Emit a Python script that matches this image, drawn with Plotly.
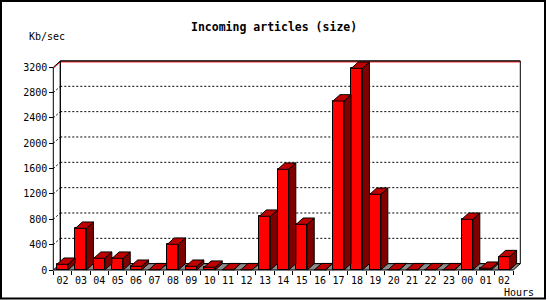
import plotly.graph_objects as go

# ---- data ----
hours = ["02", "03", "04", "05", "06", "07", "08", "09", "10", "11", "12", "13",
         "14", "15", "16", "17", "18", "19", "20", "21", "22", "23", "00", "01", "02"]
kbsec = [90, 658, 185, 185, 58, 4, 406, 58, 43, 4, 4, 848,
         1590, 721, 4, 2668, 3184, 1195, 4, 4, 4, 4, 800, 27, 210]
ytick_vals = [0, 400, 800, 1200, 1600, 2000, 2400, 2800, 3200]
title_text = "Incoming articles (size)"
ylabel_text = "Kb/sec"
xlabel_text = "Hours"

# ---- geometry (pixels) ----
FW, FH = 550, 300
X0PX, SLOT = 53.3, 18.4          # front x-axis start, px per category
Y0PX, KPX = 270.0, 0.06334       # y=0 pixel, px per unit
DXPX, DYU = 7.0, 100.0           # depth offset
L, R, T, B = 50, 523, 58, 273    # plot box in pixels
W, H = R - L, B - T

def xdata(px):
    return -0.5 + (px - X0PX) / SLOT

def ydata(py):
    return (Y0PX - py) / KPX

DXU = DXPX / SLOT
n = len(hours)
xs = list(range(n))
xr = [xdata(L), xdata(R)]
yr = [ydata(B), ydata(T)]
TOP = ytick_vals[-1] + DYU

def px2paper(px):
    return (px - L) / W

def py2paper(py):
    return (B - py) / H

FONT = "DejaVu Sans Mono"
shapes = []

# back panel
shapes.append(dict(type="rect", xref="x", yref="y", x0=-0.5 + DXU, x1=n - 0.5 + DXU,
                   y0=DYU, y1=TOP, line=dict(color="black", width=1),
                   fillcolor="white", layer="below"))
# dotted gridlines on back wall + slanted connectors
for v in ytick_vals[1:-1]:
    shapes.append(dict(type="line", xref="x", yref="y", x0=-0.5 + DXU, x1=n - 0.5 + DXU,
                       y0=v + DYU, y1=v + DYU,
                       line=dict(color="black", width=1, dash="2px,2px"), layer="below"))
    shapes.append(dict(type="line", xref="x", yref="y", x0=-0.5, x1=-0.5 + DXU,
                       y0=v, y1=v + DYU,
                       line=dict(color="black", width=1, dash="2px,2px"), layer="below"))
# red line just under top
shapes.append(dict(type="line", xref="x", yref="y", x0=-0.5 + DXU, x1=n - 0.5 + DXU,
                   y0=TOP - 15, y1=TOP - 15, line=dict(color="red", width=1), layer="below"))
shapes.append(dict(type="line", xref="x", yref="y", x0=-0.5, x1=-0.5 + DXU,
                   y0=ytick_vals[-1] - 15, y1=TOP - 15, line=dict(color="red", width=1), layer="below"))
shapes.append(dict(type="line", xref="x", yref="y", x0=-0.5 + DXU, x1=n - 0.5 + DXU,
                   y0=TOP, y1=TOP, line=dict(color="black", width=1), layer="below"))
# floor
shapes.append(dict(type="path", xref="x", yref="y",
                   path=f"M {-0.5},0 L {n-0.5},0 L {n-0.5+DXU},{DYU} L {-0.5+DXU},{DYU} Z",
                   fillcolor="#8c8c8c", line=dict(color="black", width=1), layer="below"))
# front y axis and top slant
shapes.append(dict(type="line", xref="x", yref="y", x0=-0.5, x1=-0.5, y0=0, y1=ytick_vals[-1],
                   line=dict(color="black", width=1), layer="above"))
shapes.append(dict(type="line", xref="x", yref="y", x0=-0.5, x1=-0.5 + DXU,
                   y0=ytick_vals[-1], y1=TOP, line=dict(color="black", width=1), layer="above"))
shapes.append(dict(type="line", xref="x", yref="y", x0=-0.5 + DXU, x1=-0.5 + DXU,
                   y0=DYU, y1=TOP, line=dict(color="black", width=1), layer="below"))

# bar side and top faces
hw = 0.3
for x, v in zip(xs, kbsec):
    side = (f"M {x+hw},0 L {x+hw+DXU},{DYU} L {x+hw+DXU},{v+DYU} L {x+hw},{v} Z")
    top = (f"M {x-hw},{v} L {x+hw},{v} L {x+hw+DXU},{v+DYU} L {x-hw+DXU},{v+DYU} Z")
    shapes.append(dict(type="path", xref="x", yref="y", path=side, fillcolor="#800000",
                       line=dict(color="black", width=1), layer="above"))
    shapes.append(dict(type="path", xref="x", yref="y", path=top, fillcolor="#c00000",
                       line=dict(color="black", width=1), layer="above"))

# outer border
shapes.append(dict(type="rect", xref="paper", yref="paper",
                   x0=px2paper(1), x1=px2paper(545), y0=py2paper(298.5), y1=py2paper(1),
                   line=dict(color="black", width=2), layer="above"))

fig = go.Figure()
fig.add_trace(go.Bar(x=xs, y=kbsec, width=2 * hw,
                     marker=dict(color="#ff0000", line=dict(color="black", width=1)),
                     hoverinfo="skip"))

annotations = [
    dict(text=f"<b>{title_text}</b>", xref="paper", yref="paper",
         x=px2paper(274), y=py2paper(27), showarrow=False,
         font=dict(family=FONT, size=11.5, color="black"), xanchor="center", yanchor="middle"),
    dict(text=ylabel_text, xref="paper", yref="paper",
         x=px2paper(47), y=py2paper(37), showarrow=False,
         font=dict(family=FONT, size=10, color="black"), xanchor="center", yanchor="middle"),
    dict(text=xlabel_text, xref="paper", yref="paper",
         x=px2paper(518.5), y=py2paper(292.5), showarrow=False,
         font=dict(family=FONT, size=10, color="black"), xanchor="center", yanchor="middle"),
]

fig.update_layout(
    width=FW, height=FH,
    margin=dict(l=L, r=FW - R, t=T, b=FH - B, pad=0),
    paper_bgcolor="white", plot_bgcolor="white",
    showlegend=False, bargap=0,
    shapes=shapes, annotations=annotations,
    xaxis=dict(range=xr, anchor="free", position=py2paper(Y0PX),
               tickmode="array", tickvals=xs, ticktext=hours,
               ticks="outside", ticklen=1, tickcolor="rgba(0,0,0,0)",
               minor=dict(tickmode="array", tickvals=[i - 0.5 for i in range(n + 1)],
                          ticks="outside", ticklen=4, tickcolor="black", tickwidth=1,
                          showgrid=False),
               showgrid=False, zeroline=False, showline=False, fixedrange=True,
               tickfont=dict(family=FONT, size=10, color="black")),
    yaxis=dict(range=yr, anchor="free", position=px2paper(X0PX),
               tickmode="array", tickvals=ytick_vals,
               ticks="outside", ticklen=4, tickcolor="black", tickwidth=1,
               showgrid=False, zeroline=False, showline=False, fixedrange=True,
               tickfont=dict(family=FONT, size=10, color="black")),
)

fig.write_html("out.html")
